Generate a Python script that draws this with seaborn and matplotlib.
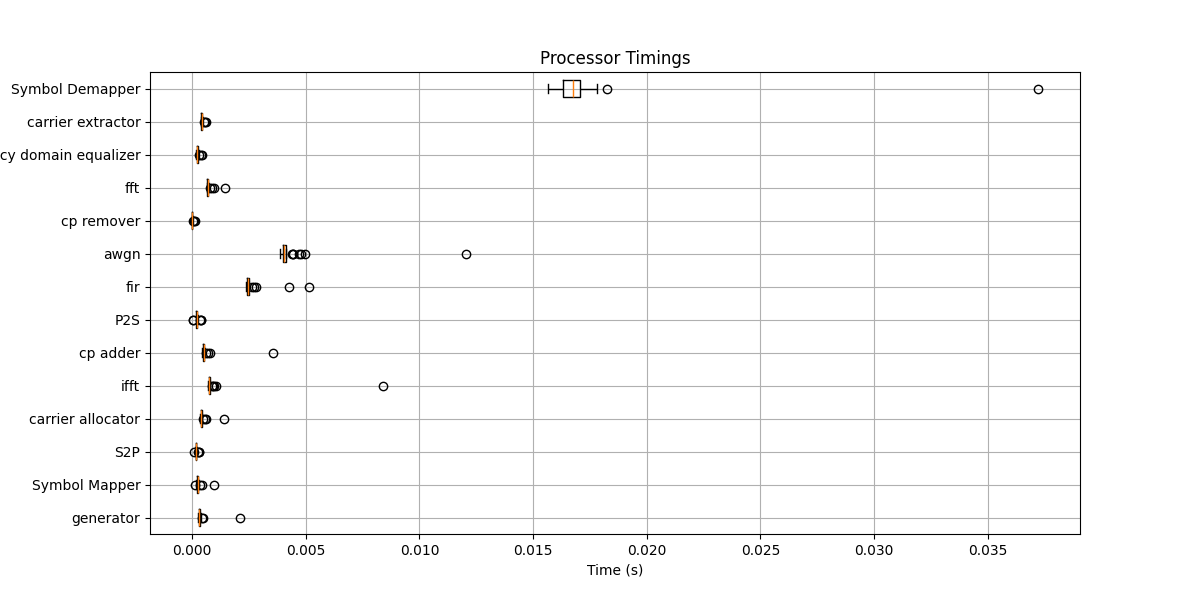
import numpy as np
import pandas as pd
import matplotlib
matplotlib.use("Agg")
import matplotlib.pyplot as plt
import seaborn as sns

# processors, top to bottom as in the chart
processors = [
    "Symbol Demapper", "carrier extractor", "frequency domain equalizer", "fft",
    "cp remover", "awgn", "fir", "P2S", "cp adder", "ifft",
    "carrier allocator", "S2P", "Symbol Mapper", "generator",
]

# timings per processor, in milliseconds
symbol_demapper = [15.64, 16.00, 16.20, 16.33, 16.55, 16.68, 16.74, 16.90, 17.00, 17.08, 17.80, 18.25, 37.20]
carrier_extractor = [0.38, 0.39, 0.40, 0.40, 0.41, 0.41, 0.42, 0.42, 0.42, 0.43, 0.43, 0.43, 0.44, 0.44, 0.45, 0.45, 0.47, 0.49, 0.52, 0.56, 0.61]
freq_domain_equalizer = [0.18, 0.19, 0.20, 0.20, 0.21, 0.21, 0.22, 0.22, 0.22, 0.23, 0.23, 0.23, 0.24, 0.24, 0.25, 0.25, 0.26, 0.28, 0.32, 0.38, 0.45]
fft = [0.64, 0.65, 0.66, 0.66, 0.67, 0.67, 0.68, 0.68, 0.68, 0.69, 0.69, 0.69, 0.70, 0.70, 0.71, 0.71, 0.73, 0.78, 0.86, 0.97, 1.45]
cp_remover = [0.005, 0.006, 0.007, 0.007, 0.008, 0.008, 0.009, 0.009, 0.009, 0.010, 0.010, 0.010, 0.011, 0.011, 0.012, 0.012, 0.013, 0.015, 0.04, 0.08, 0.13]
awgn = [3.87, 3.90, 3.92, 3.94, 3.95, 3.96, 3.98, 3.99, 4.00, 4.01, 4.02, 4.02, 4.03, 4.04, 4.04, 4.05, 4.06, 4.07, 4.08, 4.10, 4.11, 4.13,
        4.38, 4.42, 4.45, 4.68, 4.80, 4.95, 12.05]
fir = [2.38, 2.39, 2.40, 2.41, 2.41, 2.42, 2.43, 2.44, 2.44, 2.45, 2.45, 2.46, 2.47, 2.48, 2.49, 2.50, 2.65, 2.72, 2.80, 4.27, 5.14]
p2s = [0.02, 0.05, 0.15, 0.16, 0.17, 0.18, 0.19, 0.19, 0.20, 0.20, 0.20, 0.21, 0.21, 0.22, 0.22, 0.23, 0.24, 0.26, 0.33, 0.37, 0.40]
cp_adder = [0.45, 0.46, 0.47, 0.47, 0.48, 0.48, 0.49, 0.49, 0.49, 0.50, 0.50, 0.50, 0.51, 0.51, 0.52, 0.52, 0.55, 0.62, 0.70, 0.80, 3.56]
ifft = [0.71, 0.72, 0.73, 0.73, 0.74, 0.74, 0.75, 0.75, 0.75, 0.76, 0.76, 0.76, 0.77, 0.77, 0.78, 0.78, 0.87, 0.92, 0.98, 1.04, 8.40]
carrier_allocator = [0.35, 0.36, 0.37, 0.37, 0.38, 0.38, 0.39, 0.39, 0.39, 0.40, 0.40, 0.40, 0.41, 0.41, 0.42, 0.42, 0.44, 0.49, 0.55, 0.60, 1.42]
s2p = [0.08, 0.12, 0.15, 0.15, 0.16, 0.16, 0.16, 0.17, 0.17, 0.17, 0.17, 0.18, 0.18, 0.18, 0.19, 0.19, 0.20, 0.21, 0.25, 0.28, 0.31]
symbol_mapper = [0.12, 0.19, 0.20, 0.21, 0.22, 0.22, 0.23, 0.23, 0.24, 0.24, 0.25, 0.25, 0.26, 0.26, 0.27, 0.27, 0.28, 0.30, 0.36, 0.42, 0.94]
generator = [0.26, 0.27, 0.28, 0.28, 0.29, 0.29, 0.30, 0.30, 0.31, 0.31, 0.32, 0.32, 0.32, 0.33, 0.33, 0.34, 0.35, 0.40, 0.44, 0.48, 2.11]

timings = [
    symbol_demapper, carrier_extractor, freq_domain_equalizer, fft,
    cp_remover, awgn, fir, p2s, cp_adder, ifft,
    carrier_allocator, s2p, symbol_mapper, generator,
]

rows = []
for name, vals in zip(processors, timings):
    for v in vals:
        rows.append({"processor": name, "time": v / 1000.0})
df = pd.DataFrame(rows)

fig, ax = plt.subplots(figsize=(12, 6), dpi=100)
sns.boxplot(
    data=df, x="time", y="processor", order=processors, orient="h",
    fill=False, color="black", linewidth=1, width=0.5,
    medianprops=dict(color="#ff7f0e", linewidth=1),
    flierprops=dict(marker="o", markerfacecolor="none", markeredgecolor="black",
                    markersize=6, markeredgewidth=1),
    ax=ax,
)
ax.grid(True)
ax.set_axisbelow(True)
ax.set_title("Processor Timings")
ax.set_xlabel("Time (s)")
ax.set_ylabel("")

fig.savefig("out.png", dpi=100)
